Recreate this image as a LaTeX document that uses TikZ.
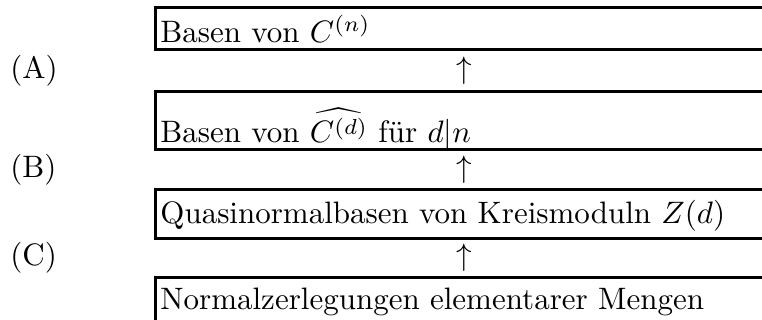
\documentclass[tikz,border=0pt]{standalone}
\usepackage{fontspec}
\usepackage{amsmath}
\usepackage{amssymb}
\usepackage{graphicx}
\usepackage{tikz}
\newcommand{\vergr}[1]{\scalebox{1.55}{#1}}

\begin{document}
\begin{tikzpicture}[x=0.5pt,y=-0.5pt,
	kasten/.style = {line width=1.5pt},
	txt/.style = {anchor=base west,inner sep=0pt},
	pfeil/.style = {anchor=base,inner sep=0pt}
	]
	\useasboundingbox (0,0) rectangle (762,320);
	\clip (0,0) rectangle (762,320);
	%KAESTEN
	\draw[kasten] (155,8) rectangle (771,50);
	\draw[kasten] (155,92) rectangle (771,150);
	\draw[kasten] (155,190) rectangle (771,239);
	\draw[kasten] (155,278) rectangle (771,340);
	%TEXTE
	\node[txt] (@K1) at (160,43) {\vergr{Basen von $C^{(n)}$}};
	\node[txt] (@K2) at (160,143) {\vergr{Basen von $\widehat{C^{(d)}}$ für $d|n$}};
	\node[txt] (@K3) at (160,224) {\vergr{Quasinormalbasen von Kreismoduln $Z(d)$}};
	\node[txt] (@K4) at (160,310) {\vergr{Normalzerlegungen elementarer Mengen}};
	%SCHRITTE
	\node[txt] (@A) at (10,79) {\vergr{(A)}};
	\node[txt] (@B) at (10,178) {\vergr{(B)}};
	\node[txt] (@C) at (10,266) {\vergr{(C)}};
	\node[pfeil] (@P1) at (464,79) {\vergr{$\uparrow$}};
	\node[pfeil] (@P2) at (464,178) {\vergr{$\uparrow$}};
	\node[pfeil] (@P3) at (464,266) {\vergr{$\uparrow$}};
\end{tikzpicture}
\end{document}
